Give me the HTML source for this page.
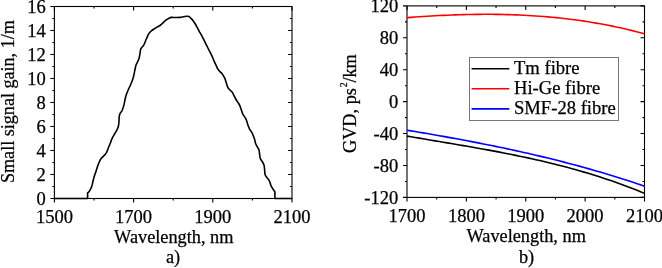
<!DOCTYPE html>
<html><head><meta charset="utf-8"><style>
html,body{margin:0;padding:0;background:#fff;}
svg{display:block;font-family:"Liberation Serif","Times New Roman",serif;}
text{stroke:#000;stroke-width:0.25px;}
</style></head><body>
<svg width="662" height="268" viewBox="0 0 662 268">
<rect width="662" height="268" fill="#fff"/>
<g stroke="#000" stroke-width="1.1" fill="none">
<rect x="54.4" y="6.5" width="237.60" height="192.00"/>
<path d="M54.40,198.5 v4 M54.40,6.5 v4"/>
<path d="M94.00,198.5 v2 M94.00,6.5 v2"/>
<path d="M133.60,198.5 v4 M133.60,6.5 v4"/>
<path d="M173.20,198.5 v2 M173.20,6.5 v2"/>
<path d="M212.80,198.5 v4 M212.80,6.5 v4"/>
<path d="M252.40,198.5 v2 M252.40,6.5 v2"/>
<path d="M292.00,198.5 v4 M292.00,6.5 v4"/>
<path d="M54.4,198.50 h-4 M292.0,198.50 h-4"/>
<path d="M54.4,186.50 h-2 M292.0,186.50 h-2"/>
<path d="M54.4,174.50 h-4 M292.0,174.50 h-4"/>
<path d="M54.4,162.50 h-2 M292.0,162.50 h-2"/>
<path d="M54.4,150.50 h-4 M292.0,150.50 h-4"/>
<path d="M54.4,138.50 h-2 M292.0,138.50 h-2"/>
<path d="M54.4,126.50 h-4 M292.0,126.50 h-4"/>
<path d="M54.4,114.50 h-2 M292.0,114.50 h-2"/>
<path d="M54.4,102.50 h-4 M292.0,102.50 h-4"/>
<path d="M54.4,90.50 h-2 M292.0,90.50 h-2"/>
<path d="M54.4,78.50 h-4 M292.0,78.50 h-4"/>
<path d="M54.4,66.50 h-2 M292.0,66.50 h-2"/>
<path d="M54.4,54.50 h-4 M292.0,54.50 h-4"/>
<path d="M54.4,42.50 h-2 M292.0,42.50 h-2"/>
<path d="M54.4,30.50 h-4 M292.0,30.50 h-4"/>
<path d="M54.4,18.50 h-2 M292.0,18.50 h-2"/>
<path d="M54.4,6.50 h-4 M292.0,6.50 h-4"/>
</g>
<path d="M54,198.5 L87.6,198.5 L87.6,192.9 C87.83,192.72 88.50,192.45 89.00,191.80 C89.50,191.15 90.13,189.93 90.60,189.00 C91.07,188.07 91.48,187.13 91.80,186.20 C92.12,185.27 92.23,184.52 92.50,183.40 C92.77,182.28 93.10,180.70 93.40,179.50 C93.70,178.30 93.92,177.42 94.30,176.20 C94.68,174.98 95.30,173.38 95.70,172.20 C96.10,171.02 96.25,170.45 96.70,169.10 C97.15,167.75 97.93,165.37 98.40,164.10 C98.87,162.83 99.15,162.27 99.50,161.50 C99.85,160.73 100.15,160.07 100.50,159.50 C100.85,158.93 101.18,158.58 101.60,158.10 C102.02,157.62 102.53,157.07 103.00,156.60 C103.47,156.13 103.87,155.87 104.40,155.30 C104.93,154.73 105.72,153.98 106.20,153.20 C106.68,152.42 106.83,151.77 107.30,150.60 C107.77,149.43 108.43,147.60 109.00,146.20 C109.57,144.80 110.25,143.35 110.70,142.20 C111.15,141.05 111.07,140.65 111.70,139.30 C112.33,137.95 113.65,135.63 114.50,134.10 C115.35,132.57 116.15,131.42 116.80,130.10 C117.45,128.78 118.03,127.68 118.40,126.20 C118.77,124.72 118.87,122.78 119.00,121.20 C119.13,119.62 119.02,118.00 119.20,116.70 C119.38,115.40 119.67,114.33 120.10,113.40 C120.53,112.47 121.38,111.78 121.80,111.10 C122.22,110.42 122.23,110.38 122.60,109.30 C122.97,108.22 123.62,106.12 124.00,104.60 C124.38,103.08 124.53,101.78 124.90,100.20 C125.27,98.62 125.62,96.88 126.20,95.10 C126.78,93.32 127.65,91.27 128.40,89.50 C129.15,87.73 130.02,86.08 130.70,84.50 C131.38,82.92 131.95,81.65 132.50,80.00 C133.05,78.35 133.57,76.43 134.00,74.60 C134.43,72.77 134.73,70.67 135.10,69.00 C135.47,67.33 135.73,65.90 136.20,64.60 C136.67,63.30 137.40,62.33 137.90,61.20 C138.40,60.07 138.88,58.92 139.20,57.80 C139.52,56.68 139.62,55.52 139.80,54.50 C139.98,53.48 140.17,52.57 140.30,51.70 C140.43,50.83 140.27,50.10 140.60,49.30 C140.93,48.50 141.73,47.68 142.30,46.90 C142.87,46.12 143.45,45.63 144.00,44.60 C144.55,43.57 145.05,42.00 145.60,40.70 C146.15,39.40 146.73,38.02 147.30,36.80 C147.87,35.58 148.35,34.37 149.00,33.40 C149.65,32.43 150.37,31.73 151.20,31.00 C152.03,30.27 152.97,29.68 154.00,29.00 C155.03,28.32 156.28,27.57 157.40,26.90 C158.52,26.23 159.73,25.72 160.70,25.00 C161.67,24.28 162.28,23.45 163.20,22.60 C164.12,21.75 165.23,20.63 166.20,19.90 C167.17,19.17 168.17,18.62 169.00,18.20 C169.83,17.78 170.08,17.52 171.20,17.40 C172.32,17.28 174.20,17.50 175.70,17.50 C177.20,17.50 178.90,17.52 180.20,17.40 C181.50,17.28 182.38,17.00 183.50,16.80 C184.62,16.60 186.00,16.25 186.90,16.20 C187.80,16.15 188.25,16.17 188.90,16.50 C189.55,16.83 190.10,17.50 190.80,18.20 C191.50,18.90 192.35,19.73 193.10,20.70 C193.85,21.67 194.57,22.78 195.30,24.00 C196.03,25.22 196.85,26.78 197.50,28.00 C198.15,29.22 198.50,30.03 199.20,31.30 C199.90,32.57 200.72,33.77 201.70,35.60 C202.68,37.43 203.98,40.07 205.10,42.30 C206.22,44.53 207.28,46.77 208.40,49.00 C209.52,51.23 210.88,53.77 211.80,55.70 C212.72,57.63 213.17,58.95 213.90,60.60 C214.63,62.25 215.55,64.20 216.20,65.60 C216.85,67.00 217.15,67.97 217.80,69.00 C218.45,70.03 219.35,70.97 220.10,71.80 C220.85,72.63 221.55,72.98 222.30,74.00 C223.05,75.02 224.00,76.65 224.60,77.90 C225.20,79.15 225.37,79.93 225.90,81.50 C226.43,83.07 227.10,85.87 227.80,87.30 C228.50,88.73 229.35,89.27 230.10,90.10 C230.85,90.93 231.65,91.37 232.30,92.30 C232.95,93.23 233.43,94.58 234.00,95.70 C234.57,96.82 235.05,97.88 235.70,99.00 C236.35,100.12 237.25,101.37 237.90,102.40 C238.55,103.43 239.05,104.02 239.60,105.20 C240.15,106.38 240.67,108.03 241.20,109.50 C241.73,110.97 242.07,112.52 242.80,114.00 C243.53,115.48 244.93,117.20 245.60,118.40 C246.27,119.60 246.42,120.08 246.80,121.20 C247.18,122.32 247.43,123.78 247.90,125.10 C248.37,126.42 248.95,127.88 249.60,129.10 C250.25,130.32 251.27,131.50 251.80,132.40 C252.33,133.30 252.35,133.40 252.80,134.50 C253.25,135.60 254.03,137.52 254.50,139.00 C254.97,140.48 255.13,142.10 255.60,143.40 C256.07,144.70 256.73,145.68 257.30,146.80 C257.87,147.92 258.62,148.88 259.00,150.10 C259.38,151.32 259.38,152.72 259.60,154.10 C259.82,155.48 259.85,157.13 260.30,158.40 C260.75,159.67 261.68,160.58 262.30,161.70 C262.92,162.82 263.62,163.78 264.00,165.10 C264.38,166.42 264.42,168.02 264.60,169.60 C264.78,171.18 264.73,173.30 265.10,174.60 C265.47,175.90 266.15,176.47 266.80,177.40 C267.45,178.33 268.45,179.30 269.00,180.20 C269.55,181.10 269.73,181.80 270.10,182.80 C270.47,183.80 270.73,185.17 271.20,186.20 C271.67,187.23 272.28,188.07 272.90,189.00 C273.52,189.93 274.57,191.33 274.90,191.80 L274.9,198.5 L292,198.5" fill="none" stroke="#000" stroke-width="1.6" stroke-linejoin="round"/>
<g font-size="18.5" text-anchor="end">
<text x="45.8" y="204.80">0</text>
<text x="45.8" y="180.80">2</text>
<text x="45.8" y="156.80">4</text>
<text x="45.8" y="132.80">6</text>
<text x="45.8" y="108.80">8</text>
<text x="45.8" y="84.80">10</text>
<text x="45.8" y="60.80">12</text>
<text x="45.8" y="36.80">14</text>
<text x="45.8" y="12.80">16</text>
</g>
<g font-size="18.5" text-anchor="middle">
<text x="54.40" y="223">1500</text>
<text x="133.60" y="223">1700</text>
<text x="212.80" y="223">1900</text>
<text x="292.00" y="223">2100</text>
</g>
<text font-size="18.3" x="173.8" y="243.4" text-anchor="middle">Wavelength, nm</text>
<text font-size="18.3" x="173" y="263.4" text-anchor="middle">a)</text>
<text font-size="18.1" transform="translate(13.6,101.6) rotate(-90)" text-anchor="middle">Small signal gain, 1/m</text>
<g stroke="#000" stroke-width="1.1" fill="none">
<rect x="407.0" y="5.9" width="237.50" height="191.50"/>
<path d="M407.00,197.4 v4 M407.00,5.9 v4"/>
<path d="M436.69,197.4 v2 M436.69,5.9 v2"/>
<path d="M466.38,197.4 v4 M466.38,5.9 v4"/>
<path d="M496.06,197.4 v2 M496.06,5.9 v2"/>
<path d="M525.75,197.4 v4 M525.75,5.9 v4"/>
<path d="M555.44,197.4 v2 M555.44,5.9 v2"/>
<path d="M585.12,197.4 v4 M585.12,5.9 v4"/>
<path d="M614.81,197.4 v2 M614.81,5.9 v2"/>
<path d="M644.50,197.4 v4 M644.50,5.9 v4"/>
<path d="M407.0,197.40 h-4 M644.5,197.40 h-4"/>
<path d="M407.0,181.44 h-2 M644.5,181.44 h-2"/>
<path d="M407.0,165.48 h-4 M644.5,165.48 h-4"/>
<path d="M407.0,149.53 h-2 M644.5,149.53 h-2"/>
<path d="M407.0,133.57 h-4 M644.5,133.57 h-4"/>
<path d="M407.0,117.61 h-2 M644.5,117.61 h-2"/>
<path d="M407.0,101.65 h-4 M644.5,101.65 h-4"/>
<path d="M407.0,85.69 h-2 M644.5,85.69 h-2"/>
<path d="M407.0,69.73 h-4 M644.5,69.73 h-4"/>
<path d="M407.0,53.78 h-2 M644.5,53.78 h-2"/>
<path d="M407.0,37.82 h-4 M644.5,37.82 h-4"/>
<path d="M407.0,21.86 h-2 M644.5,21.86 h-2"/>
<path d="M407.0,5.90 h-4 M644.5,5.90 h-4"/>
</g>
<path d="M407.00,17.67 L411.03,17.36 L415.05,17.06 L419.08,16.78 L423.10,16.51 L427.13,16.25 L431.15,16.00 L435.18,15.77 L439.20,15.56 L443.23,15.36 L447.25,15.18 L451.28,15.01 L455.31,14.86 L459.33,14.72 L463.36,14.61 L467.38,14.51 L471.41,14.43 L475.43,14.37 L479.46,14.33 L483.48,14.30 L487.51,14.30 L491.53,14.31 L495.56,14.35 L499.58,14.41 L503.61,14.49 L507.64,14.59 L511.66,14.71 L515.69,14.86 L519.71,15.03 L523.74,15.22 L527.76,15.44 L531.79,15.68 L535.81,15.94 L539.84,16.23 L543.86,16.54 L547.89,16.88 L551.92,17.25 L555.94,17.64 L559.97,18.06 L563.99,18.51 L568.02,18.98 L572.04,19.48 L576.07,20.02 L580.09,20.57 L584.12,21.16 L588.14,21.78 L592.17,22.43 L596.19,23.11 L600.22,23.82 L604.25,24.56 L608.27,25.33 L612.30,26.14 L616.32,26.97 L620.35,27.84 L624.37,28.75 L628.40,29.68 L632.42,30.65 L636.45,31.66 L640.47,32.70 L644.50,33.77" fill="none" stroke="#f00" stroke-width="1.6"/>
<path d="M407.00,130.19 L411.03,130.86 L415.05,131.53 L419.08,132.21 L423.10,132.89 L427.13,133.58 L431.15,134.27 L435.18,134.97 L439.20,135.68 L443.23,136.39 L447.25,137.11 L451.28,137.84 L455.31,138.57 L459.33,139.31 L463.36,140.06 L467.38,140.82 L471.41,141.59 L475.43,142.36 L479.46,143.14 L483.48,143.94 L487.51,144.74 L491.53,145.55 L495.56,146.37 L499.58,147.20 L503.61,148.04 L507.64,148.90 L511.66,149.76 L515.69,150.64 L519.71,151.52 L523.74,152.42 L527.76,153.33 L531.79,154.26 L535.81,155.19 L539.84,156.14 L543.86,157.10 L547.89,158.08 L551.92,159.07 L555.94,160.07 L559.97,161.08 L563.99,162.12 L568.02,163.16 L572.04,164.22 L576.07,165.30 L580.09,166.39 L584.12,167.50 L588.14,168.62 L592.17,169.76 L596.19,170.92 L600.22,172.09 L604.25,173.28 L608.27,174.49 L612.30,175.71 L616.32,176.96 L620.35,178.22 L624.37,179.50 L628.40,180.79 L632.42,182.11 L636.45,183.45 L640.47,184.80 L644.50,186.18" fill="none" stroke="#00f" stroke-width="1.6"/>
<path d="M407.00,136.09 L411.03,136.78 L415.05,137.47 L419.08,138.15 L423.10,138.83 L427.13,139.51 L431.15,140.18 L435.18,140.86 L439.20,141.53 L443.23,142.21 L447.25,142.89 L451.28,143.56 L455.31,144.25 L459.33,144.93 L463.36,145.62 L467.38,146.32 L471.41,147.02 L475.43,147.73 L479.46,148.45 L483.48,149.17 L487.51,149.90 L491.53,150.65 L495.56,151.40 L499.58,152.16 L503.61,152.94 L507.64,153.73 L511.66,154.53 L515.69,155.35 L519.71,156.18 L523.74,157.03 L527.76,157.89 L531.79,158.77 L535.81,159.67 L539.84,160.58 L543.86,161.52 L547.89,162.48 L551.92,163.45 L555.94,164.45 L559.97,165.47 L563.99,166.52 L568.02,167.59 L572.04,168.68 L576.07,169.80 L580.09,170.94 L584.12,172.11 L588.14,173.31 L592.17,174.53 L596.19,175.79 L600.22,177.07 L604.25,178.39 L608.27,179.74 L612.30,181.11 L616.32,182.53 L620.35,183.97 L624.37,185.45 L628.40,186.96 L632.42,188.51 L636.45,190.10 L640.47,191.72 L644.50,193.38" fill="none" stroke="#000" stroke-width="1.6"/>
<rect x="469.5" y="57.5" width="149" height="63" fill="#fff" stroke="#777" stroke-width="1"/>
<path d="M471.6,68.7 H509.3" stroke="#000" stroke-width="1.6"/>
<path d="M471.6,88.8 H509.3" stroke="#f00" stroke-width="1.6"/>
<path d="M471.6,108.9 H509.3" stroke="#00f" stroke-width="1.6"/>
<g font-size="18.6">
<text x="514" y="73.6">Tm fibre</text>
<text x="514" y="93.6">Hi-Ge fibre</text>
<text x="514" y="113.6">SMF-28 fibre</text>
</g>
<g font-size="18.5" text-anchor="end">
<text x="398.2" y="203.50">-120</text>
<text x="398.2" y="171.58">-80</text>
<text x="398.2" y="139.67">-40</text>
<text x="398.2" y="107.75">0</text>
<text x="398.2" y="75.83">40</text>
<text x="398.2" y="43.92">80</text>
<text x="398.2" y="12.00">120</text>
</g>
<g font-size="18.5" text-anchor="middle">
<text x="407.00" y="221.9">1700</text>
<text x="466.38" y="221.9">1800</text>
<text x="525.75" y="221.9">1900</text>
<text x="585.12" y="221.9">2000</text>
<text x="644.50" y="221.9">2100</text>
</g>
<text font-size="18.3" x="526.2" y="242.3" text-anchor="middle">Wavelength, nm</text>
<text font-size="18.3" x="526.6" y="263.2" text-anchor="middle">b)</text>
<text font-size="18.3" transform="translate(356.2,103.6) rotate(-90)" text-anchor="middle">GVD, ps<tspan font-size="9.8" dx="0.8" dy="-9.2">2</tspan><tspan dx="-0.3" dy="9.2">/km</tspan></text>
</svg>
</body></html>
